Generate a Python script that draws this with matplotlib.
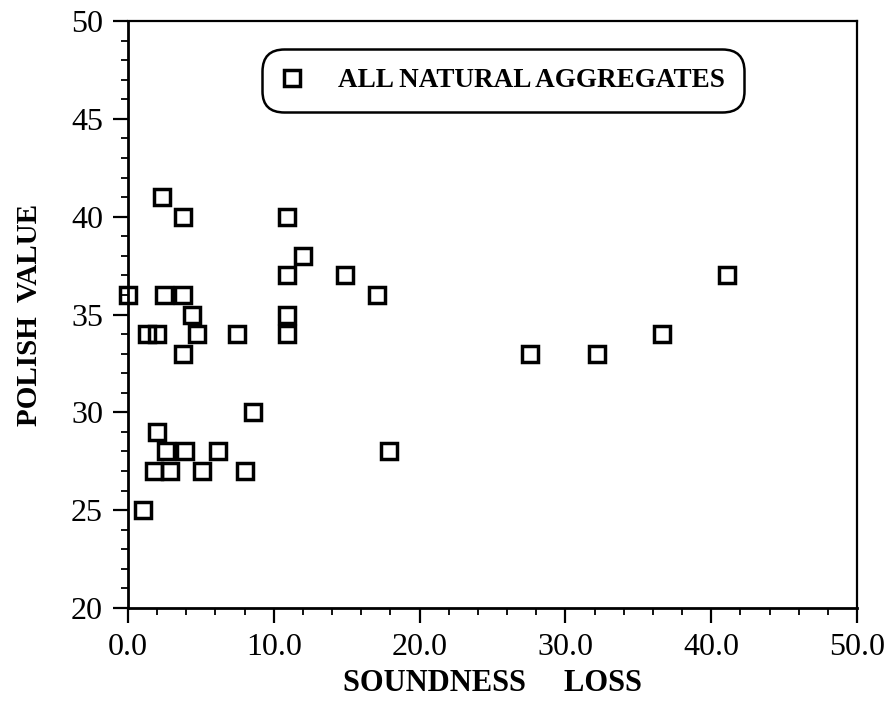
import matplotlib
matplotlib.use("Agg")
import matplotlib.pyplot as plt
from matplotlib.ticker import MultipleLocator, FormatStrFormatter

soundness_loss = [0.0, 2.3, 3.8, 2.5, 3.8, 4.4, 1.3, 2.0, 4.7, 7.5, 3.8,
                  10.9, 12.0, 10.9, 10.9, 10.9, 14.9, 17.1, 17.9,
                  27.6, 32.2, 36.6, 41.1,
                  8.6, 2.0, 2.6, 3.9, 6.2, 1.8, 2.9, 5.1, 8.0, 1.0]
polish_value = [36, 41, 40, 36, 36, 35, 34, 34, 34, 34, 33,
                40, 38, 37, 35, 34, 37, 36, 28,
                33, 33, 34, 37,
                30, 29, 28, 28, 28, 27, 27, 27, 27, 25]
series_label = "ALL NATURAL AGGREGATES"
x_label = "SOUNDNESS     LOSS"
y_label = "POLISH  VALUE"

serif = ["Liberation Serif", "DejaVu Serif"]

fig = plt.figure(figsize=(8.96, 7.11), dpi=100)
ax = fig.add_axes([128/896, 1-608/711, (857-128)/896, (608-21)/711])

ax.plot(soundness_loss, polish_value, linestyle="none", marker="s",
        markersize=11, markerfacecolor="none", markeredgecolor="black",
        markeredgewidth=2.5, label=series_label, clip_on=False)

ax.set_xlim(0, 50)
ax.set_ylim(20, 50)
ax.xaxis.set_major_locator(MultipleLocator(10))
ax.xaxis.set_minor_locator(MultipleLocator(2))
ax.yaxis.set_major_locator(MultipleLocator(5))
ax.yaxis.set_minor_locator(MultipleLocator(1))
ax.xaxis.set_major_formatter(FormatStrFormatter("%.1f"))
ax.yaxis.set_major_formatter(FormatStrFormatter("%d"))

ax.tick_params(which="major", direction="out", length=11, width=1.6,
               labelsize=23, pad=7)
ax.tick_params(which="minor", direction="out", length=5, width=1.3)
for lab in ax.get_xticklabels() + ax.get_yticklabels():
    lab.set_family(serif)

for side in ["left", "bottom"]:
    ax.spines[side].set_linewidth(2.0)
for side in ["top", "right"]:
    ax.spines[side].set_linewidth(1.6)

ax.set_xlabel(x_label, family=serif, fontweight="bold", fontsize=22, labelpad=5)
ax.set_ylabel(y_label, family=serif, fontweight="bold", fontsize=21, labelpad=20)

leg = ax.legend(loc="center", bbox_to_anchor=(0.514, 0.898),
                frameon=True, fancybox=True, handlelength=0.8,
                handletextpad=1.3, borderpad=0.5, borderaxespad=0,
                prop={"family": serif, "size": 19.5, "weight": "bold"})
frame = leg.get_frame()
frame.set_edgecolor("black")
frame.set_linewidth(1.8)
frame.set_boxstyle("round,pad=0.2,rounding_size=0.8")
frame.set_alpha(1)

fig.savefig("out.png", dpi=100, facecolor="white")
